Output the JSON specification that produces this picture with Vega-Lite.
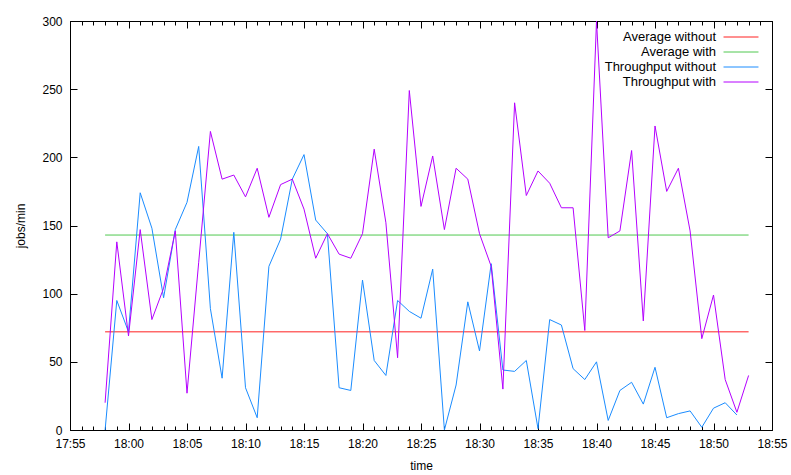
{
  "$schema": "https://vega.github.io/schema/vega-lite/v6.json",
  "width": 702,
  "height": 409,
  "autosize": "none",
  "padding": {"left": 70, "top": 21, "right": 19, "bottom": 45},
  "background": "white",
  "config": {
    "font": "Liberation Sans",
    "view": {"stroke": "black", "strokeWidth": 1},
    "axis": {"domainColor": "black", "tickColor": "black", "labelColor": "black", "titleColor": "black", "labelFontSize": 12, "titleFontSize": 12, "titleFontWeight": "normal", "grid": false}
  },
  "data": {
    "format": {"parse": {"t": "utc:'%H:%M'"}},
    "values": [
      {"s": "Average without", "t": "17:58", "v": 72},
      {"s": "Average without", "t": "18:53", "v": 72},
      {"s": "Average with", "t": "17:58", "v": 143},
      {"s": "Average with", "t": "18:53", "v": 143},
      {"s": "Throughput without", "t": "17:58", "v": 0},
      {"s": "Throughput without", "t": "17:59", "v": 95},
      {"s": "Throughput without", "t": "18:00", "v": 72},
      {"s": "Throughput without", "t": "18:01", "v": 174},
      {"s": "Throughput without", "t": "18:02", "v": 148},
      {"s": "Throughput without", "t": "18:03", "v": 97},
      {"s": "Throughput without", "t": "18:04", "v": 147},
      {"s": "Throughput without", "t": "18:05", "v": 167},
      {"s": "Throughput without", "t": "18:06", "v": 208},
      {"s": "Throughput without", "t": "18:07", "v": 89},
      {"s": "Throughput without", "t": "18:08", "v": 38},
      {"s": "Throughput without", "t": "18:09", "v": 145},
      {"s": "Throughput without", "t": "18:10", "v": 31},
      {"s": "Throughput without", "t": "18:11", "v": 9},
      {"s": "Throughput without", "t": "18:12", "v": 120},
      {"s": "Throughput without", "t": "18:13", "v": 140},
      {"s": "Throughput without", "t": "18:14", "v": 184},
      {"s": "Throughput without", "t": "18:15", "v": 202},
      {"s": "Throughput without", "t": "18:16", "v": 154},
      {"s": "Throughput without", "t": "18:17", "v": 144},
      {"s": "Throughput without", "t": "18:18", "v": 31},
      {"s": "Throughput without", "t": "18:19", "v": 29},
      {"s": "Throughput without", "t": "18:20", "v": 110},
      {"s": "Throughput without", "t": "18:21", "v": 51},
      {"s": "Throughput without", "t": "18:22", "v": 40},
      {"s": "Throughput without", "t": "18:23", "v": 95},
      {"s": "Throughput without", "t": "18:24", "v": 87},
      {"s": "Throughput without", "t": "18:25", "v": 82},
      {"s": "Throughput without", "t": "18:26", "v": 118},
      {"s": "Throughput without", "t": "18:27", "v": 0},
      {"s": "Throughput without", "t": "18:28", "v": 33},
      {"s": "Throughput without", "t": "18:29", "v": 94},
      {"s": "Throughput without", "t": "18:30", "v": 58},
      {"s": "Throughput without", "t": "18:31", "v": 122},
      {"s": "Throughput without", "t": "18:32", "v": 44},
      {"s": "Throughput without", "t": "18:33", "v": 43},
      {"s": "Throughput without", "t": "18:34", "v": 51},
      {"s": "Throughput without", "t": "18:35", "v": 1},
      {"s": "Throughput without", "t": "18:36", "v": 81},
      {"s": "Throughput without", "t": "18:37", "v": 77},
      {"s": "Throughput without", "t": "18:38", "v": 45},
      {"s": "Throughput without", "t": "18:39", "v": 37},
      {"s": "Throughput without", "t": "18:40", "v": 50},
      {"s": "Throughput without", "t": "18:41", "v": 7},
      {"s": "Throughput without", "t": "18:42", "v": 29},
      {"s": "Throughput without", "t": "18:43", "v": 35},
      {"s": "Throughput without", "t": "18:44", "v": 19},
      {"s": "Throughput without", "t": "18:45", "v": 46},
      {"s": "Throughput without", "t": "18:46", "v": 9},
      {"s": "Throughput without", "t": "18:47", "v": 12},
      {"s": "Throughput without", "t": "18:48", "v": 14},
      {"s": "Throughput without", "t": "18:49", "v": 2},
      {"s": "Throughput without", "t": "18:50", "v": 16},
      {"s": "Throughput without", "t": "18:51", "v": 20},
      {"s": "Throughput without", "t": "18:52", "v": 11},
      {"s": "Throughput with", "t": "17:58", "v": 20},
      {"s": "Throughput with", "t": "17:59", "v": 138},
      {"s": "Throughput with", "t": "18:00", "v": 69},
      {"s": "Throughput with", "t": "18:01", "v": 147},
      {"s": "Throughput with", "t": "18:02", "v": 81},
      {"s": "Throughput with", "t": "18:03", "v": 104},
      {"s": "Throughput with", "t": "18:04", "v": 146},
      {"s": "Throughput with", "t": "18:05", "v": 27},
      {"s": "Throughput with", "t": "18:06", "v": 123},
      {"s": "Throughput with", "t": "18:07", "v": 219},
      {"s": "Throughput with", "t": "18:08", "v": 184},
      {"s": "Throughput with", "t": "18:09", "v": 187},
      {"s": "Throughput with", "t": "18:10", "v": 171},
      {"s": "Throughput with", "t": "18:11", "v": 192},
      {"s": "Throughput with", "t": "18:12", "v": 156},
      {"s": "Throughput with", "t": "18:13", "v": 180},
      {"s": "Throughput with", "t": "18:14", "v": 184},
      {"s": "Throughput with", "t": "18:15", "v": 162},
      {"s": "Throughput with", "t": "18:16", "v": 126},
      {"s": "Throughput with", "t": "18:17", "v": 144},
      {"s": "Throughput with", "t": "18:18", "v": 129},
      {"s": "Throughput with", "t": "18:19", "v": 126},
      {"s": "Throughput with", "t": "18:20", "v": 144},
      {"s": "Throughput with", "t": "18:21", "v": 206},
      {"s": "Throughput with", "t": "18:22", "v": 152},
      {"s": "Throughput with", "t": "18:23", "v": 53},
      {"s": "Throughput with", "t": "18:24", "v": 249},
      {"s": "Throughput with", "t": "18:25", "v": 164},
      {"s": "Throughput with", "t": "18:26", "v": 201},
      {"s": "Throughput with", "t": "18:27", "v": 147},
      {"s": "Throughput with", "t": "18:28", "v": 192},
      {"s": "Throughput with", "t": "18:29", "v": 184},
      {"s": "Throughput with", "t": "18:30", "v": 144},
      {"s": "Throughput with", "t": "18:31", "v": 120},
      {"s": "Throughput with", "t": "18:32", "v": 30},
      {"s": "Throughput with", "t": "18:33", "v": 240},
      {"s": "Throughput with", "t": "18:34", "v": 172},
      {"s": "Throughput with", "t": "18:35", "v": 190},
      {"s": "Throughput with", "t": "18:36", "v": 181},
      {"s": "Throughput with", "t": "18:37", "v": 163},
      {"s": "Throughput with", "t": "18:38", "v": 163},
      {"s": "Throughput with", "t": "18:39", "v": 73},
      {"s": "Throughput with", "t": "18:40", "v": 300},
      {"s": "Throughput with", "t": "18:41", "v": 141},
      {"s": "Throughput with", "t": "18:42", "v": 146},
      {"s": "Throughput with", "t": "18:43", "v": 205},
      {"s": "Throughput with", "t": "18:44", "v": 80},
      {"s": "Throughput with", "t": "18:45", "v": 223},
      {"s": "Throughput with", "t": "18:46", "v": 175},
      {"s": "Throughput with", "t": "18:47", "v": 192},
      {"s": "Throughput with", "t": "18:48", "v": 146},
      {"s": "Throughput with", "t": "18:49", "v": 67},
      {"s": "Throughput with", "t": "18:50", "v": 99},
      {"s": "Throughput with", "t": "18:51", "v": 37},
      {"s": "Throughput with", "t": "18:52", "v": 13},
      {"s": "Throughput with", "t": "18:53", "v": 40}
    ]
  },
  "layer": [
    {
      "mark": {"type": "line", "strokeWidth": 1, "clip": true},
      "encoding": {
        "x": {
          "field": "t",
          "type": "temporal",
          "scale": {"type": "utc", "domain": [-2208924300000, -2208920700000], "nice": false},
          "axis": {
            "orient": "bottom",
            "title": "time",
            "values": [-2208924300000, -2208924240000, -2208924180000, -2208924120000, -2208924060000, -2208924000000, -2208923940000, -2208923880000, -2208923820000, -2208923760000, -2208923700000, -2208923640000, -2208923580000, -2208923520000, -2208923460000, -2208923400000, -2208923340000, -2208923280000, -2208923220000, -2208923160000, -2208923100000, -2208923040000, -2208922980000, -2208922920000, -2208922860000, -2208922800000, -2208922740000, -2208922680000, -2208922620000, -2208922560000, -2208922500000, -2208922440000, -2208922380000, -2208922320000, -2208922260000, -2208922200000, -2208922140000, -2208922080000, -2208922020000, -2208921960000, -2208921900000, -2208921840000, -2208921780000, -2208921720000, -2208921660000, -2208921600000, -2208921540000, -2208921480000, -2208921420000, -2208921360000, -2208921300000, -2208921240000, -2208921180000, -2208921120000, -2208921060000, -2208921000000, -2208920940000, -2208920880000, -2208920820000, -2208920760000, -2208920700000],
            "labelExpr": "utcminutes(datum.value) % 5 == 0 ? utcFormat(datum.value, '%H:%M') : ''",
            "labelFlush": false,
            "labelPadding": 15,
            "tickSize": {"condition": {"test": "utcminutes(datum.value) % 5 == 0", "value": -7}, "value": -4},
            "titlePadding": 11
          }
        },
        "y": {
          "field": "v",
          "type": "quantitative",
          "scale": {"domain": [0, 300], "nice": false},
          "axis": {"orient": "left", "title": "jobs/min", "values": [0, 50, 100, 150, 200, 250, 300], "tickSize": -7, "labelPadding": 15, "titlePadding": 14}
        },
        "color": {
          "field": "s",
          "type": "nominal",
          "scale": {"domain": ["Average without", "Average with", "Throughput without", "Throughput with"], "range": ["#ff2020", "#50c850", "#1a8cff", "#b400ff"]},
          "legend": {
            "orient": "none",
            "legendX": 663,
            "legendY": 8,
            "title": null,
            "symbolType": "M-2.33,0H2.33",
            "symbolSize": 225,
            "symbolStrokeWidth": 1,
            "labelAlign": "right",
            "labelOffset": -33,
            "labelFontSize": 13,
            "labelColor": "black",
            "labelLimit": 0,
            "rowPadding": 0,
            "padding": 0
          }
        }
      }
    },
    {
      "mark": {"type": "line", "opacity": 0},
      "encoding": {
        "x": {
          "field": "t",
          "type": "temporal",
          "axis": {
            "orient": "top",
            "title": null,
            "labels": false,
            "values": [-2208924300000, -2208924240000, -2208924180000, -2208924120000, -2208924060000, -2208924000000, -2208923940000, -2208923880000, -2208923820000, -2208923760000, -2208923700000, -2208923640000, -2208923580000, -2208923520000, -2208923460000, -2208923400000, -2208923340000, -2208923280000, -2208923220000, -2208923160000, -2208923100000, -2208923040000, -2208922980000, -2208922920000, -2208922860000, -2208922800000, -2208922740000, -2208922680000, -2208922620000, -2208922560000, -2208922500000, -2208922440000, -2208922380000, -2208922320000, -2208922260000, -2208922200000, -2208922140000, -2208922080000, -2208922020000, -2208921960000, -2208921900000, -2208921840000, -2208921780000, -2208921720000, -2208921660000, -2208921600000, -2208921540000, -2208921480000, -2208921420000, -2208921360000, -2208921300000, -2208921240000, -2208921180000, -2208921120000, -2208921060000, -2208921000000, -2208920940000, -2208920880000, -2208920820000, -2208920760000, -2208920700000],
            "tickSize": {"condition": {"test": "utcminutes(datum.value) % 5 == 0", "value": -7}, "value": -4}
          }
        },
        "y": {
          "field": "v",
          "type": "quantitative",
          "axis": {"orient": "right", "title": null, "labels": false, "values": [0, 50, 100, 150, 200, 250, 300], "tickSize": -7}
        }
      }
    }
  ],
  "resolve": {"axis": {"x": "independent", "y": "independent"}}
}
